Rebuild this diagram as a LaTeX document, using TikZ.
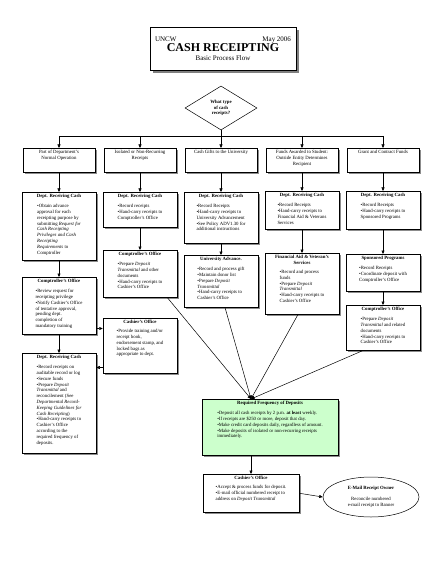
\documentclass[tikz,border=0pt]{standalone}
\usepackage{fontspec}
\setmainfont{Liberation Serif}
\usetikzlibrary{arrows.meta,positioning,shapes.geometric,shadows}

\definecolor{mint}{HTML}{CCFFCC}
\newcommand{\boxfont}{\fontsize{4.8}{5.8}\selectfont}
\newcommand{\bu}{\textbullet}
\newcommand{\topcell}[1]{\parbox[c][20pt][t]{68pt}{\centering #1}}
\newcommand{\cellbox}[4][70pt]{\parbox[c][#2][t]{#1}{\centering\textbf{#3}\par\vspace{4pt}\begin{tabular}{@{}l@{}}#4\end{tabular}}}

\begin{document}
\begin{tikzpicture}[
  x=1pt,
  y=-1pt,
  font=\boxfont,
  header/.style={draw, fill=white, line width=0.6pt, minimum width=146pt, minimum height=43pt, align=center, font=\fontsize{7}{8}\selectfont, drop shadow={shadow xshift=3pt, shadow yshift=-3pt, fill=black!50, opacity=1}},
  query/.style={diamond, draw, fill=white, line width=0.5pt, minimum width=72pt, minimum height=44pt, inner sep=0pt, align=center, font=\boxfont\bfseries},
  kind/.style={draw, fill=white, line width=0.5pt, inner sep=2pt, anchor=north, drop shadow={shadow xshift=1.5pt, shadow yshift=-1.5pt, fill=black!45, opacity=1}},
  unit/.style={kind},
  freqbox/.style={kind, fill=mint},
  owner/.style={ellipse, draw, fill=white, line width=0.5pt, minimum width=96pt, minimum height=40pt, inner sep=0pt, align=center},
  arrow/.style={-{Triangle[length=3.5pt,width=3pt]}, line width=0.5pt},
  link/.style={line width=0.5pt}
]
  \useasboundingbox (0,0) rectangle (440,569);

  \node[header] (head) at (223,48.5) {\makebox[136pt]{UNCW\hfill May 2006}\\[-1pt] {\fontsize{12}{12}\selectfont\bfseries CASH RECEIPTING}\\[1pt] Basic Process Flow};

  \node[query] (q) at (221,108) {What type\\of cash\\receipts?};
  \coordinate (bar) at (221,136);

  % kinds of receipts
  \node[kind] (t1) at (59,148) {\topcell{Part of Department's\\Normal Operation}};
  \node[kind] (t2) at (140,148) {\topcell{Isolated or Non-Recurring\\Receipts}};
  \node[kind] (t3) at (221,148) {\topcell{Cash Gifts to the University}};
  \node[kind] (t4) at (302,148) {\topcell{Funds Awarded to Student:\\Outside Entity Determines\\Recipient}};
  \node[kind] (t5) at (383,148) {\topcell{Grant and Contract Funds}};

  % column 1
  \node[unit] (c1a) at (59,192) {\cellbox{64pt}{Dept. Receiving Cash}{\bu Obtain advance\\ approval for each\\ receipting purpose by\\ submitting \textit{Request for}\\ \textit{Cash Receipting}\\ \textit{Privileges and Cash}\\ \textit{Receipting}\\ \textit{Requirements} to\\ Comptroller}};
  \node[unit] (c1b) at (59,277) {\cellbox{53pt}{Comptroller's Office}{\bu Review request for\\ receipting privilege\\ \bu Notify Cashier's Office\\ of tentative approval,\\ pending dept.\\ completion of\\ mandatory training}};
  \node[unit] (c1c) at (59,353) {\cellbox{96pt}{Dept. Receiving Cash}{\bu Record receipts on\\ auditable record or log\\ \bu Secure funds\\ \bu Prepare \textit{Deposit}\\ \textit{Transmittal} and\\ reconcilement (See\\ \textit{Departmental Record-}\\ \textit{Keeping Guidelines for}\\ \textit{Cash Receipting})\\ \bu Hand-carry receipts to\\ Cashier's Office\\ according to the\\ required frequency of\\ deposits.}};

  % column 2
  \node[unit] (c2a) at (140,192) {\cellbox{31pt}{Dept. Receiving Cash}{\bu Record receipts\\ \bu Hand-carry receipts to\\ Comptroller's Office}};
  \node[unit] (c2b) at (140,250) {\cellbox{43pt}{Comptroller's Office}{\bu Prepare \textit{Deposit}\\ \textit{Transmittal} and other\\ documents\\ \bu Hand-carry receipts to\\ Cashier's Office}};
  \node[unit] (c2c) at (140,318) {\cellbox{51pt}{Cashier's Office}{\bu Provide training and/or\\ receipt book,\\ endorsement stamp, and\\ locked bags as\\ appropriate to dept.}};

  % column 3
  \node[unit] (c3a) at (221,192) {\cellbox{47pt}{Dept. Receiving Cash}{\bu Record Receipts\\ \bu Hand-carry receipts to\\ University Advancement\\ \bu See Policy ADV1.30 for\\ additional instructions}};
  \node[unit] (c3b) at (221,255) {\cellbox{48pt}{University Advance.}{\bu Record and process gift\\ \bu Maintain donor list\\ \bu Prepare \textit{Deposit}\\ \textit{Transmittal}\\ \bu Hand-carry receipts to\\ Cashier's Office}};

  % column 4
  \node[unit] (c4a) at (302,191) {\cellbox{34pt}{Dept. Receiving Cash}{\bu Record Receipts\\ \bu Hand-carry receipts to\\ Financial Aid \& Veterans\\ Services}};
  \node[unit] (c4b) at (302,253) {\cellbox{57pt}{Financial Aid \& Veteran's\\Services}{\bu Record and process\\ funds\\ \bu Prepare \textit{Deposit}\\ \textit{Transmittal}\\ \bu Hand-carry receipts to\\ Cashier's Office}};

  % column 5
  \node[unit] (c5a) at (383,191) {\cellbox{34pt}{Dept. Receiving Cash}{\bu Record Receipts\\ \bu Hand-carry receipts to\\ Sponsored Programs}};
  \node[unit] (c5b) at (383,254) {\cellbox{33pt}{Sponsored Programs}{\bu Record Receipts\\ \bu Coordinate deposit with\\ Comptroller's Office}};
  \node[unit] (c5c) at (383,305) {\cellbox{41pt}{Comptroller's Office}{\bu Prepare \textit{Deposit}\\ \textit{Transmittal} and related\\ documents\\ \bu Hand-carry receipts to\\ Cashier's Office}};

  % deposits
  \node[freqbox] (freq) at (270,399) {\cellbox[132pt]{52pt}{Required Frequency of Deposits}{\bu Deposit all cash receipts by 2 p.m. \textbf{at least} weekly.\\ \bu If receipts are \$250 or more, deposit that day.\\ \bu Make credit card deposits daily, regardless of amount.\\ \bu Make deposits of isolated or non-recurring receipts\\ immediately.}};
  \node[unit] (cash) at (251,474) {\cellbox[92pt]{34pt}{Cashier's Office}{\bu Accept \& process funds for deposit.\\ \bu E-mail official numbered receipt to\\ address on \textit{Deposit Transmittal}}};
  \node[owner] (own) at (371,497) {\textbf{E-Mail Receipt Owner}\\[5pt] Reconcile numbered\\ e-mail receipt to Banner};

  \coordinate (meet) at ([xshift=-19pt]freq.north);

  \draw[link] (q.south) -- (bar);
  \draw[link] (t1.north |- bar) -- (t5.north |- bar);
  \draw[arrow] (t1.north |- bar) -- (t1.north);
  \draw[arrow] (t2.north |- bar) -- (t2.north);
  \draw[arrow] (bar) -- (t3.north);
  \draw[arrow] (t4.north |- bar) -- (t4.north);
  \draw[arrow] (t5.north |- bar) -- (t5.north);

  \draw[arrow] (t1.south) -- (c1a.north);
  \draw[arrow] (t2.south) -- (c2a.north);
  \draw[arrow] (t3.south) -- (c3a.north);
  \draw[arrow] (t4.south) -- (c4a.north);
  \draw[arrow] (t5.south) -- (c5a.north);

  \draw[arrow] (c1a.south) -- (c1b.north);
  \draw[arrow] (c1b.south) -- (c1c.north);
  \draw[arrow] (c2a.south) -- (c2b.north);
  \draw[arrow] (c3a.south) -- (c3b.north);
  \draw[arrow] (c4a.south) -- (c4b.north);
  \draw[arrow] (c5a.south) -- (c5b.north);
  \draw[arrow] (c5b.south) -- (c5c.north);
  \draw[arrow] ([yshift=6pt]c1b.south east) -- ([yshift=6pt]c1b.south east -| c2c.west);
  \draw[arrow] ([yshift=6pt]c2c.south west) -- ([yshift=6pt]c2c.south west -| c1c.east);

  \draw[arrow] ([xshift=-10pt]c2b.south east) -- (meet);
  \draw[arrow] ([xshift=4pt]c3b.south) -- (meet);
  \draw[arrow] ([xshift=-4pt]c4b.south) -- (meet);
  \draw[arrow] ([xshift=-20pt]c5c.south) -- (meet);
  \draw[arrow] (freq.south -| cash.north) -- (cash.north);
  \draw[arrow] (cash.east) -- (own.west);
\end{tikzpicture}
\end{document}
